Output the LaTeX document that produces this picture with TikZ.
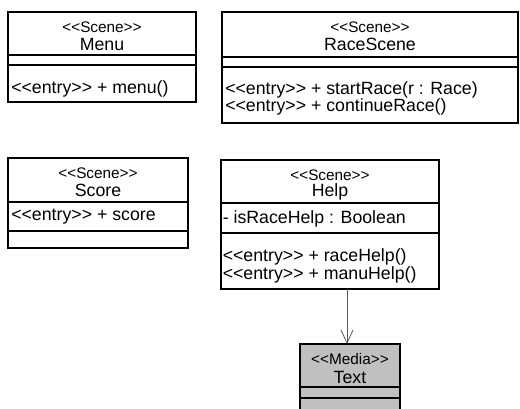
\documentclass[tikz,border=0pt]{standalone}
\usepackage{fontspec}
\setmainfont{Liberation Sans}[Ligatures=TeXOff]
\usetikzlibrary{fit,arrows.meta}
\definecolor{umlgray}{HTML}{C0C0C0}
\tikzset{
classbox/.style={draw, line width=0.8pt, inner sep=0pt, outer sep=0pt},
mediabox/.style={classbox, fill=umlgray},
stereo/.style={font=\fontsize{11.5}{13}\selectfont, inner sep=0pt, anchor=base},
cname/.style={font=\fontsize{13.3}{15}\selectfont, inner sep=0pt, anchor=base},
member/.style={font=\fontsize{13.3}{15}\selectfont, inner sep=0pt, anchor=base west},
usage/.style={draw=black!65, line width=0.6pt, -{Straight Barb[length=9.75pt,width=9pt]}}
}

\begin{document}
\begin{tikzpicture}[x=0.75pt,y=-0.75pt]
\useasboundingbox (0,0) rectangle (520,408);
% the class boxes
\node[classbox, fit={(8,12) (196,102)}] (menu) {};
\node[classbox, fit={(222,12) (518,123)}] (race) {};
\node[classbox, fit={(8,158) (188,248)}] (score) {};
\node[classbox, fit={(221,160) (439,289)}] (help) {};
\node[mediabox, fit={(300,344) (400,412)}] (media) {};
% the compartment rules
\foreach \y in {55,65}
  \draw[line width=0.8pt] (menu.west |- 0,\y) -- (menu.east |- 0,\y);
\foreach \y in {57,67}
  \draw[line width=0.8pt] (race.west |- 0,\y) -- (race.east |- 0,\y);
\foreach \y in {202,231}
  \draw[line width=0.8pt] (score.west |- 0,\y) -- (score.east |- 0,\y);
\foreach \y in {203,233}
  \draw[line width=0.8pt] (help.west |- 0,\y) -- (help.east |- 0,\y);
\foreach \y in {387,398}
  \draw[line width=0.8pt] (media.west |- 0,\y) -- (media.east |- 0,\y);
% Menu
\node[stereo] (menuS) at (menu.north |- 0,32) {<<Scene>>};
\node[cname] (menuN) at (menu.north |- 0,50) {Menu};
\node[member] (menuOp) at (11,93) {<<entry>> + menu()};
% RaceScene
\node[stereo] (raceS) at (race.north |- 0,32) {<<Scene>>};
\node[cname] (raceN) at (race.north |- 0,50) {RaceScene};
\node[member] (raceOpA) at (225,94) {<<entry>> + startRace(r : Race)};
\node[member] (raceOpB) at (225,111.7) {<<entry>> + continueRace()};
% Score
\node[stereo] (scoreS) at (score.north |- 0,178) {<<Scene>>};
\node[cname] (scoreN) at (score.north |- 0,196) {Score};
\node[member] (scoreAt) at (11,220) {<<entry>> + score};
% Help
\node[stereo] (helpS) at (help.north |- 0,180) {<<Scene>>};
\node[cname] (helpN) at (help.north |- 0,196) {Help};
\node[member] (helpAt) at (222.5,223) {- isRaceHelp : Boolean};
\node[member] (helpOpA) at (222.5,261) {<<entry>> + raceHelp()};
\node[member] (helpOpB) at (222.5,279) {<<entry>> + manuHelp()};
% Text
\node[stereo] (mediaS) at (media.north |- 0,364) {<<Media>>};
\node[cname] (mediaN) at (media.north |- 0,383) {Text};
% the dependency
\draw[usage] (help.south -| 347,0) -- (media.north -| 347,0);
\end{tikzpicture}
\end{document}
